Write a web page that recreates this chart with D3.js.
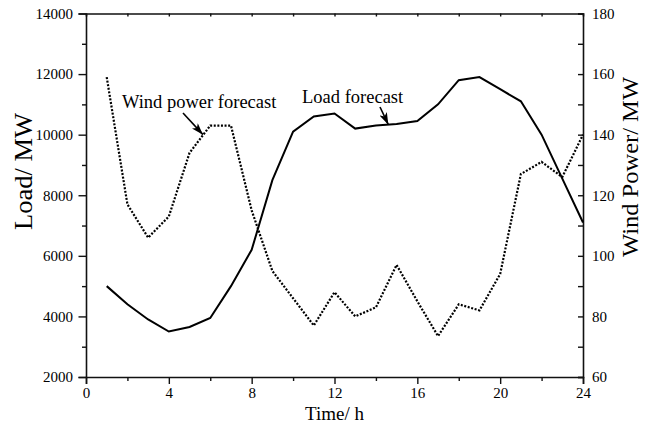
<!DOCTYPE html>
<html>
<head>
<meta charset="utf-8">
<script src="https://cdn.jsdelivr.net/npm/d3@7/dist/d3.min.js"></script>
<style>
  html, body { margin: 0; padding: 0; background: #fff; }
  svg { display: block; font-family: "Liberation Serif", "Times New Roman", serif; }
</style>
</head>
<body>
<svg id="chart" width="648" height="427"></svg>
<script>
// ---- data ----
const hours = [1,2,3,4,5,6,7,8,9,10,11,12,13,14,15,16,17,18,19,20,21,22,23,24];
const loadForecast = [5000,4400,3900,3500,3650,3950,5000,6200,8500,10100,10600,10700,10200,10300,10350,10450,11000,11800,11900,11500,11100,10000,8550,7100];
const windForecast = [159,117,106,113,134,143,143,115,95,86,77,88,80,83,97,85,73.5,84,82,94,127,131,126,140];
const xTicks = [0,4,8,12,16,20,24];
const loadTicks = [2000,4000,6000,8000,10000,12000,14000];
const windTicks = [60,80,100,120,140,160,180];
const xLabel = "Time/ h";
const yLeftLabel = "Load/ MW";
const yRightLabel = "Wind Power/ MW";
const windNote = "Wind power forecast";
const loadNote = "Load forecast";

// ---- layout ----
const W = 648, H = 427;
const m = {left: 86, right: 65, top: 13.5, bottom: 50};
const svg = d3.select("#chart");
const x = d3.scaleLinear().domain([0,24]).range([m.left, W - m.right]);
const yL = d3.scaleLinear().domain([2000,14000]).range([H - m.bottom, m.top]);
const yR = d3.scaleLinear().domain([60,180]).range([H - m.bottom, m.top]);

const axisColor = "#111";
const fs = 15;

// bottom axis
svg.append("g").attr("transform", `translate(0,${H - m.bottom})`)
  .call(d3.axisBottom(x).tickValues(xTicks).tickSize(7).tickPadding(3).tickFormat(d3.format("d")));
svg.append("g").attr("transform", `translate(0,${H - m.bottom})`)
  .call(d3.axisBottom(x).tickValues(d3.range(2,24,4)).tickSize(4).tickFormat(""))
  .call(g => g.select(".domain").remove());
// top border
svg.append("g").attr("transform", `translate(0,${m.top})`)
  .call(d3.axisTop(x).tickValues(d3.range(2,24,2)).tickSize(-3).tickFormat(""));
// left axis
svg.append("g").attr("transform", `translate(${m.left},0)`)
  .call(d3.axisLeft(yL).tickValues(loadTicks).tickSize(7.5).tickPadding(5.5).tickFormat(d3.format("d")));
svg.append("g").attr("transform", `translate(${m.left},0)`)
  .call(d3.axisLeft(yL).tickValues(d3.range(3000,14000,2000)).tickSize(4).tickFormat(""))
  .call(g => g.select(".domain").remove());
// right axis
svg.append("g").attr("transform", `translate(${W - m.right},0)`)
  .call(d3.axisRight(yR).tickValues(windTicks).tickSize(-5).tickPadding(9).tickFormat(d3.format("d")));
svg.append("g").attr("transform", `translate(${W - m.right},0)`)
  .call(d3.axisRight(yR).tickValues(d3.range(70,180,20)).tickSize(-5).tickFormat(""))
  .call(g => g.select(".domain").remove());

svg.selectAll(".domain").attr("stroke", axisColor).attr("stroke-width", 1.6);
svg.selectAll(".tick line").attr("stroke", axisColor).attr("stroke-width", 1.4);
svg.selectAll(".tick text").attr("fill", "#000").style("font-size", fs + "px")
  .style("font-family", '"Liberation Serif", serif');

// axis titles
svg.append("text").attr("x", x(12)).attr("y", 420).attr("text-anchor", "middle")
  .style("font-size", "19px").text(xLabel);
svg.append("text").attr("transform", "translate(32,171.5) rotate(-90)")
  .attr("text-anchor", "middle").style("font-size", "25px")
  .attr("textLength", 117).attr("lengthAdjust", "spacingAndGlyphs").text(yLeftLabel);
svg.append("text").attr("transform", "translate(638,167) rotate(-90)")
  .attr("text-anchor", "middle").style("font-size", "24px")
  .attr("textLength", 180).attr("lengthAdjust", "spacingAndGlyphs").text(yRightLabel);

// lines
const loadLine = d3.line().x((d,i) => x(hours[i])).y(d => yL(d));
const windLine = d3.line().x((d,i) => x(hours[i])).y(d => yR(d));
svg.append("path").datum(loadForecast).attr("d", loadLine)
  .attr("fill", "none").attr("stroke", "#000").attr("stroke-width", 2).attr("stroke-linejoin", "miter");
svg.append("path").datum(windForecast).attr("d", windLine)
  .attr("fill", "none").attr("stroke", "#000").attr("stroke-width", 2.2)
  .attr("stroke-dasharray", "2 1.6");

// annotations
const defs = svg.append("defs");
defs.append("marker").attr("id", "ah").attr("viewBox", "0 0 12 8").attr("refX", 12).attr("refY", 4)
  .attr("markerWidth", 12).attr("markerHeight", 8).attr("markerUnits", "userSpaceOnUse").attr("orient", "auto")
  .append("path").attr("d", "M0,0 L12,4 L0,8 L3,4 z").attr("fill", "#000");

svg.append("text").attr("x", 122).attr("y", 108).style("font-size", "18.5px").text(windNote);
svg.append("line").attr("x1", 183).attr("y1", 113).attr("x2", x(5.65)).attr("y2", yR(140))
  .attr("stroke", "#000").attr("stroke-width", 1.6).attr("marker-end", "url(#ah)");

svg.append("text").attr("x", 302).attr("y", 103).style("font-size", "18.5px").text(loadNote);
svg.append("line").attr("x1", 380).attr("y1", 107).attr("x2", x(14.6)).attr("y2", yL(10330))
  .attr("stroke", "#000").attr("stroke-width", 1.6).attr("marker-end", "url(#ah)");
</script>
</body>
</html>
